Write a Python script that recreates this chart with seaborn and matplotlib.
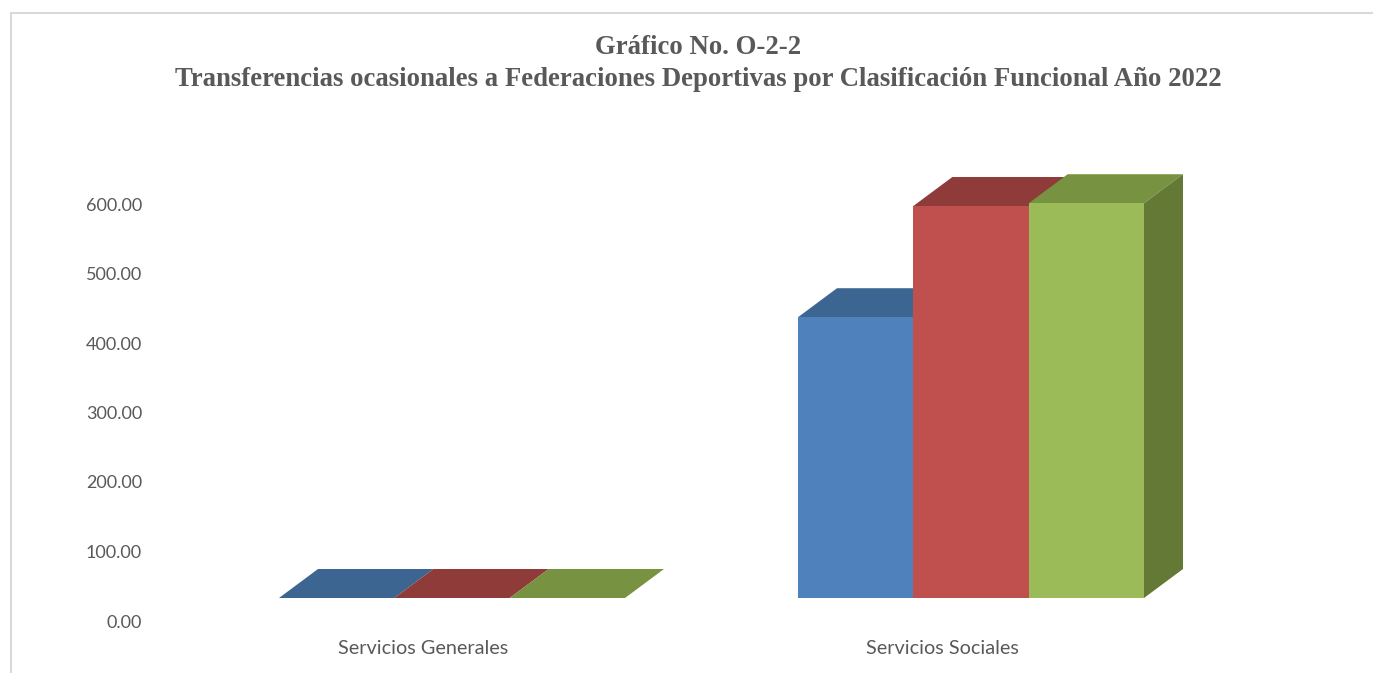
import matplotlib
matplotlib.use("Agg")
import matplotlib.pyplot as plt
from matplotlib.patches import Polygon, Rectangle
from matplotlib.transforms import IdentityTransform, ScaledTranslation
import pandas as pd
import seaborn as sns

# ---- data -------------------------------------------------------------
categories = ["Servicios Generales", "Servicios Sociales"]
series = ["Serie 1", "Serie 2", "Serie 3"]
valores_generales = [0.0, 0.0, 0.0]
valores_sociales = [404.0, 564.0, 568.0]
yticks = [0, 100, 200, 300, 400, 500, 600]

title_line1 = "Gráfico No. O-2-2"
title_line2 = ("Transferencias ocasionales a Federaciones Deportivas por "
               "Clasificación Funcional Año 2022")

front_colors = ["#4F81BD", "#C0504D", "#9BBB59"]
top_colors = ["#3C6591", "#8E3B39", "#779240"]
side_colors = ["#33557B", "#7A3230", "#657936"]

df = pd.DataFrame({
    "categoria": [c for c in categories for _ in series],
    "serie": series * len(categories),
    "valor": valores_generales + valores_sociales,
})

# ---- figure -----------------------------------------------------------
W, H, DPI = 1373, 673, 100
sns.set_theme(style="white")
plt.rcParams["font.family"] = ["Lato", "DejaVu Sans"]

fig = plt.figure(figsize=(W / DPI, H / DPI), dpi=DPI)
fig.patch.set_facecolor("white")

# axes placed so that the category axis spans the chart floor
ax_left, ax_right = 163.5, 1201.5
ax_bottom, ax_top = 621.0, 134.5
ax = fig.add_axes([ax_left / W, (H - ax_bottom) / H,
                   (ax_right - ax_left) / W, (ax_bottom - ax_top) / H])

sns.barplot(data=df, x="categoria", y="valor", hue="serie",
            palette=front_colors, width=2 / 3, gap=0, dodge=True,
            saturation=1, legend=False, ax=ax, linewidth=0)

ax.set_xlim(-0.5, 1.5)
ax.set_ylim(0, 700)
ax.set_yticks(yticks)
ax.set_yticklabels([f"{v:.2f}" for v in yticks])
ax.set_xlabel("")
ax.set_ylabel("")
for s in ax.spines.values():
    s.set_visible(False)
ax.tick_params(axis="both", length=0, colors="#595959")
ax.tick_params(axis="y", pad=15.5, labelsize=13)
ax.tick_params(axis="x", pad=13.5, labelsize=14.3)
ax.patch.set_alpha(0)

# ---- 3-D column faces ---------------------------------------------------
# bars sit behind the floor edge (gap depth) and have a receding depth
gap_dx, gap_dy = 29.0, 23.0       # pixels, floor edge -> bar front plane
depth_dx, depth_dy = 39.0, 29.0   # pixels, bar front -> bar back

fig.canvas.draw()
shift = ScaledTranslation(gap_dx / DPI, gap_dy / DPI, fig.dpi_scale_trans)
bars = sorted(ax.patches, key=lambda p: p.get_x())
faces = []
for i, bar in enumerate(bars):
    k = i % len(series)
    x0, w, h = bar.get_x(), bar.get_width(), bar.get_height()
    (px0, py0), (px1, py1) = ax.transData.transform([(x0, 0), (x0 + w, h)])
    px0 += gap_dx
    px1 += gap_dx
    py0 += gap_dy
    py1 += gap_dy
    top = Polygon([(px0, py1), (px1, py1),
                   (px1 + depth_dx, py1 + depth_dy),
                   (px0 + depth_dx, py1 + depth_dy)],
                  closed=True, facecolor=top_colors[k], edgecolor="none",
                  transform=IdentityTransform(), zorder=2 + 2 * i,
                  clip_on=False)
    side = Polygon([(px1, py0), (px1 + depth_dx, py0 + depth_dy),
                    (px1 + depth_dx, py1 + depth_dy), (px1, py1)],
                   closed=True, facecolor=side_colors[k], edgecolor="none",
                   transform=IdentityTransform(), zorder=2 + 2 * i,
                   clip_on=False)
    faces += [top, side]
    bar.set_transform(ax.transData + shift)
    bar.set_zorder(3 + 2 * i)
    bar.set_clip_on(False)
    bar.set_facecolor(front_colors[k])

for f in faces:
    ax.add_artist(f)

# ---- titles and frame ---------------------------------------------------
title_kw = dict(ha="center", va="center", color="#595959",
                family=["Liberation Serif", "DejaVu Serif"], weight="bold",
                fontsize=19.3)
fig.text(698 / W, 1 - 47 / H, title_line1, **title_kw)
fig.text(698 / W, 1 - 79 / H, title_line2, **title_kw)

fig.add_artist(Rectangle((11.5 / W, -0.1), 1.2, (H - 12.5) / H + 0.1,
                         transform=fig.transFigure, fill=False,
                         edgecolor="#D9D9D9", linewidth=1.5))

fig.savefig("out.png", dpi=DPI)
